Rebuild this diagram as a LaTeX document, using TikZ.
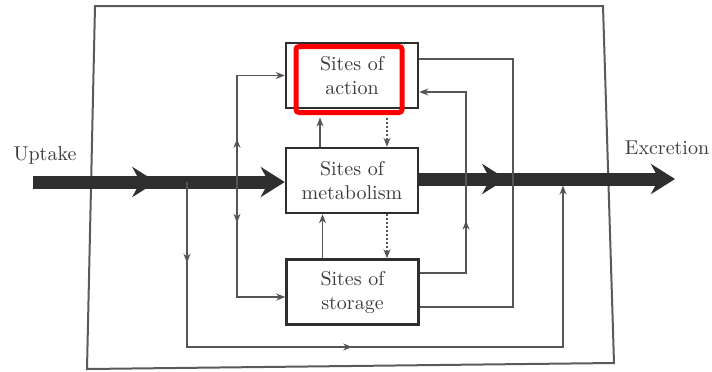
\documentclass[tikz,border=0pt]{standalone}
\usetikzlibrary{%
  arrows.meta,%
  decorations.markings,%
  calc%
}
\definecolor{ink}{HTML}{2E2E2E}
\definecolor{wire}{HTML}{555555}
\definecolor{txt}{HTML}{3C3C3C}
\definecolor{frame}{HTML}{5A5A5A}

\begin{document}
\begin{tikzpicture}
[x=0.5pt, y=-0.5pt, font=\normalsize, line width=0.7pt,
site/.style={rectangle, draw=ink, line width=1.25pt, minimum width=66pt, minimum height=32.5pt, align=center, text=txt, inner sep=2pt},
hilite/.style={rectangle, draw=red, line width=2.5pt, rounded corners=1.5pt, minimum width=53pt, minimum height=33pt, inner sep=0pt},
flow/.style={draw=ink, line width=6.5pt, -{Stealth[length=12pt, width=15pt, inset=4pt]}},
midflow/.style={postaction={decorate, decoration={markings, mark=at position #1 with {\arrow[ink]{Stealth[length=12pt, width=15pt, inset=4pt]}}}}},
link/.style={draw=wire, line width=0.7pt},
endtip/.style={-{Stealth[length=4.5pt, width=3.5pt]}},
dotlink/.style={draw=wire, line width=1pt, densely dotted, -{Stealth[length=4.5pt, width=3.5pt]}},
midarrow/.style={postaction={decorate, decoration={markings, mark=at position #1 with {\arrow[wire]{Stealth[length=4.5pt, width=3.5pt]}}}}}
]
\useasboundingbox (0,0) rectangle (712,371);

% outer frame
\draw[draw=frame, line width=1pt] (95,6) -- (603,6) -- (614,363) -- (87,369) -- cycle;

\node[site] (action) at (352,75.5) {Sites of\\action};
\node[site] (metab) at (352,180.5) {Sites of\\metabolism};
\node[site] (storage) at (352.5,292) {Sites of\\storage};

\node[text=txt] (uptake) at (45,155) {Uptake};
\node[text=txt] (excretion) at (667,148) {Excretion};

\coordinate (in) at (33,182);
\coordinate (out) at (675,179);
\draw[flow, midflow=0.49] (in) -- (metab.west |- in);
\draw[flow, midflow=0.34] (metab.east |- out) -- (out);

\coordinate (j1) at (237,182);
\coordinate (j2) at (187,182);
\coordinate (j3) at (563,185.5);
\coordinate (low) at (187,347);
\coordinate (r1) at (513,180);
\coordinate (r2) at (466,180);

\draw[link, endtip, midarrow=0.28] (j1) |- (action.west);
\draw[link, endtip, midarrow=0.25] (j1) |- ([yshift=-2.5pt]storage.west);
\draw[link, endtip, midarrow=0.115, midarrow=0.47] (j2) -- (low) -| (j3);
\draw[link] ([yshift=8.25pt]action.east) -| (r1) |- ([yshift=-7.5pt]storage.east);
\draw[link, endtip, midarrow=0.36] ([yshift=9.5pt]storage.east) -| (r2) |- ([yshift=-8.25pt]action.east);

\node[hilite] (hl) at (349,79.5) {};

\draw[link, endtip, shorten >=1.25pt] ([xshift=-16pt]metab.north) -- ([xshift=-16pt]metab.north |- hl.south);
\draw[dotlink, shorten <=1.25pt] ([xshift=17.5pt]metab.north |- hl.south) -- ([xshift=17.5pt]metab.north);
\draw[link, endtip] ([xshift=-15pt]storage.north) -- ([xshift=-15pt]storage.north |- metab.south);
\draw[dotlink] ([xshift=17.5pt]metab.south) -- ([xshift=17.5pt]metab.south |- storage.north);
\end{tikzpicture}
\end{document}
